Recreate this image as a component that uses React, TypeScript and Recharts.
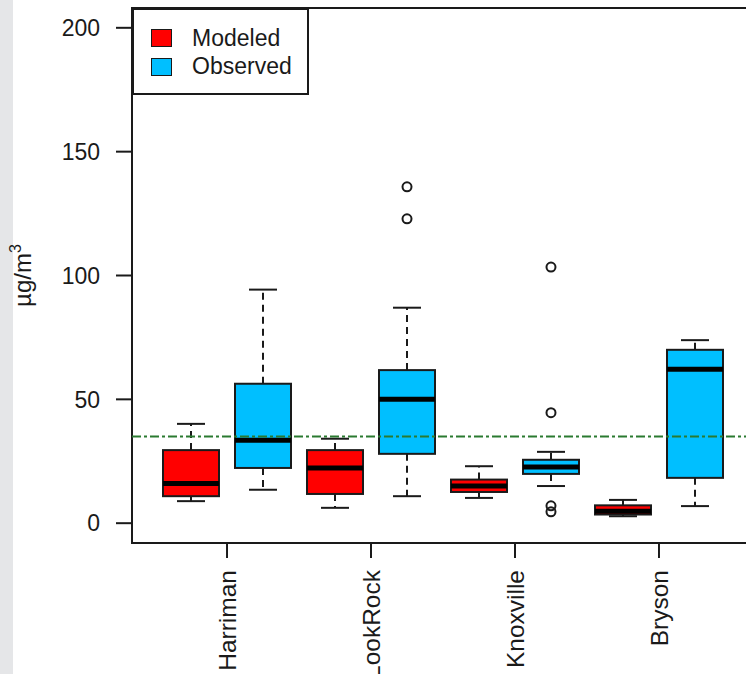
import React from "react";
import {
  ComposedChart,
  Bar,
  Scatter,
  XAxis,
  YAxis,
  ReferenceLine,
  ReferenceArea,
} from "recharts";

const stations = ["Harriman", "LookRock", "Knoxville", "Bryson"];
const groups = ["Modeled", "Observed"];
const groupColors = ["#ff0000", "#00bfff"];

// one entry per box, station by station, Modeled then Observed
const whiskerLow = [8.9, 13.5, 6.2, 10.9, 10.2, 15.0, 2.8, 6.9];
const lowerQuartile = [10.9, 22.3, 11.8, 28.0, 12.6, 19.9, 3.5, 18.3];
const median = [16.0, 33.5, 22.3, 50.0, 15.0, 22.7, 4.8, 62.1];
const upperQuartile = [29.5, 56.3, 29.5, 61.8, 17.6, 25.6, 7.2, 70.0];
const whiskerHigh = [40.1, 94.3, 34.1, 87.0, 23.0, 28.8, 9.4, 73.9];

const outlierPos = [4, 4, 6, 6, 6, 6];
const outlierValues = [135.8, 122.9, 103.4, 44.6, 7.0, 4.6];

const stationTicks = [1.5, 3.5, 5.5, 7.5];
const yTicks = [0, 50, 100, 150, 200];
const threshold = 35;

const FONT = "'Liberation Sans', Arial, sans-serif";
const INK = "#1a1a1a";

const table = median.map((_, i) => {
  const g = i % 2;
  return {
    id: `${stations[Math.floor(i / 2)]}-${groups[g]}`,
    group: g,
    base: whiskerLow[i],
    lowWhisker: lowerQuartile[i] - whiskerLow[i],
    lowBox: median[i] - lowerQuartile[i],
    highBox: upperQuartile[i] - median[i],
    highWhisker: whiskerHigh[i] - upperQuartile[i],
  };
});

const outliers = outlierPos.map((p, i) => ({ pos: p, value: outlierValues[i] }));

const CAP = 14;

const LowWhisker = (props: any) => {
  const { x, y, width, height } = props;
  const cx = x + width / 2;
  return (
    <g>
      <line x1={cx} y1={y} x2={cx} y2={y + height} stroke={INK} strokeWidth={2} strokeDasharray="7 5" />
      <line x1={cx - CAP} y1={y + height} x2={cx + CAP} y2={y + height} stroke={INK} strokeWidth={2} />
    </g>
  );
};

const HighWhisker = (props: any) => {
  const { x, y, width, height } = props;
  const cx = x + width / 2;
  return (
    <g>
      <line x1={cx} y1={y + height} x2={cx} y2={y} stroke={INK} strokeWidth={2} strokeDasharray="7 5" />
      <line x1={cx - CAP} y1={y} x2={cx + CAP} y2={y} stroke={INK} strokeWidth={2} />
    </g>
  );
};

const LowBox = (props: any) => {
  const { x, y, width, height, payload } = props;
  return (
    <rect x={x} y={y} width={width} height={height} fill={groupColors[payload.group]} stroke={INK} strokeWidth={2} />
  );
};

const HighBox = (props: any) => {
  const { x, y, width, height, payload } = props;
  return (
    <g>
      <rect x={x} y={y} width={width} height={height} fill={groupColors[payload.group]} stroke={INK} strokeWidth={2} />
      <line x1={x} y1={y + height} x2={x + width} y2={y + height} stroke="#000" strokeWidth={5} />
    </g>
  );
};

const Outlier = (props: any) => {
  const { cx, cy } = props;
  return <circle cx={cx} cy={cy} r={4.5} fill="none" stroke={INK} strokeWidth={2} />;
};

const StationTick = (props: any) => {
  const { x, y, payload } = props;
  const name = stations[stationTicks.indexOf(payload.value)];
  return (
    <text
      x={x}
      y={y}
      transform={`rotate(-90 ${x} ${y})`}
      textAnchor="end"
      dy="0.36em"
      fontFamily={FONT}
      fontSize={24.5}
      fill={INK}
    >
      {name}
    </text>
  );
};

const UnitLabel = (props: any) => {
  const { viewBox } = props;
  const x = 31;
  const y = viewBox.y + viewBox.height / 2;
  return (
    <text x={x} y={y} transform={`rotate(-90 ${x} ${y})`} textAnchor="middle" fontFamily={FONT} fontSize={24} fill={INK}>
      µg/m
      <tspan dy={-10} fontSize={16}>3</tspan>
    </text>
  );
};

const Legend = () => (
  <div
    style={{
      position: "absolute",
      left: 132,
      top: 8,
      width: 177,
      height: 87,
      boxSizing: "border-box",
      border: `2px solid ${INK}`,
      background: "#fff",
      fontFamily: FONT,
      fontSize: 23,
      color: INK,
    }}
  >
    {groups.map((g, i) => (
      <React.Fragment key={g}>
        <div
          style={{
            position: "absolute",
            left: 17,
            top: 19 + i * 29,
            width: 19,
            height: 16,
            background: groupColors[i],
            border: `1.5px solid ${INK}`,
          }}
        />
        <div style={{ position: "absolute", left: 58, top: 17 + i * 28, lineHeight: "23px" }}>{g}</div>
      </React.Fragment>
    ))}
  </div>
);

export default function App() {
  return (
    <div
      style={{
        position: "absolute",
        left: 0,
        top: 0,
        width: 746,
        height: 674,
        overflow: "hidden",
        background: "#fff",
      }}
    >
      <div style={{ position: "absolute", left: 0, top: 0, width: 13, height: 674, background: "#e5e6e8" }} />
      <div style={{ position: "absolute", left: 0, top: 0 }}>
        <ComposedChart width={760} height={674} data={table} margin={{ top: 8, right: 6, bottom: 0, left: 0 }}>
          <XAxis xAxisId="cat" dataKey="id" type="category" hide height={0} padding={{ left: 23, right: 23 }} />
          <XAxis
            xAxisId="pos"
            dataKey="pos"
            type="number"
            domain={[0.18, 8.82]}
            allowDataOverflow
            ticks={stationTicks}
            interval={0}
            height={131}
            axisLine={false}
            tickSize={15}
            tickMargin={12}
            tickLine={{ stroke: INK, strokeWidth: 2 }}
            tick={<StationTick />}
          />
          <YAxis
            width={132}
            domain={[-8, 208]}
            allowDataOverflow
            ticks={yTicks}
            interval={0}
            axisLine={false}
            tickSize={16}
            tickMargin={16}
            tickLine={{ stroke: INK, strokeWidth: 2 }}
            tick={{ fill: INK, fontSize: 23, fontFamily: FONT }}
            label={<UnitLabel />}
          />
          <Bar xAxisId="cat" dataKey="base" stackId="box" barSize={56} shape={() => <g />} isAnimationActive={false} />
          <Bar xAxisId="cat" dataKey="lowWhisker" stackId="box" barSize={56} shape={<LowWhisker />} isAnimationActive={false} />
          <Bar xAxisId="cat" dataKey="lowBox" stackId="box" barSize={56} shape={<LowBox />} isAnimationActive={false} />
          <Bar xAxisId="cat" dataKey="highBox" stackId="box" barSize={56} shape={<HighBox />} isAnimationActive={false} />
          <Bar xAxisId="cat" dataKey="highWhisker" stackId="box" barSize={56} shape={<HighWhisker />} isAnimationActive={false} />
          <Scatter xAxisId="pos" data={outliers} dataKey="value" shape={<Outlier />} isAnimationActive={false} />
          <ReferenceLine
            xAxisId="pos"
            y={threshold}
            stroke="#2a7a30"
            strokeWidth={2}
            strokeDasharray="9 3 3 3"
          />
          <ReferenceArea
            xAxisId="pos"
            x1={0.18}
            x2={8.82}
            y1={-8}
            y2={208}
            fill="none"
            fillOpacity={0}
            stroke={INK}
            strokeWidth={2}
            strokeOpacity={1}
          />
        </ComposedChart>
      </div>
      <Legend />
    </div>
  );
}
